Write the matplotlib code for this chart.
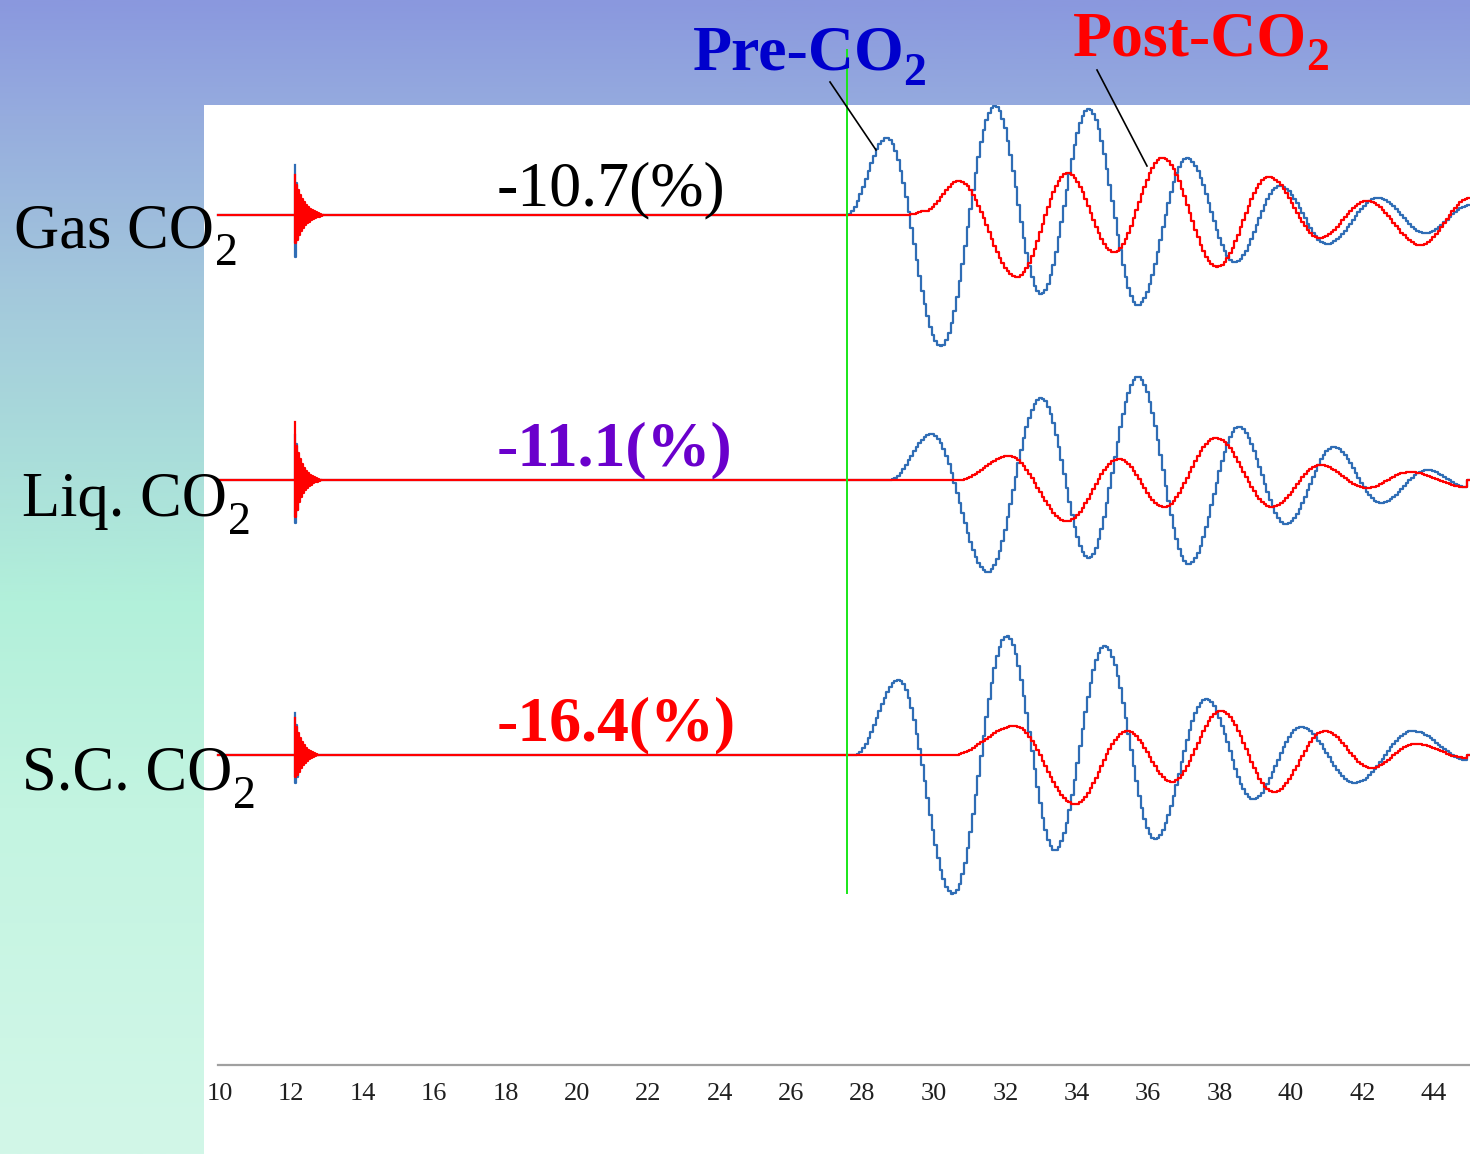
import numpy as np
import matplotlib
matplotlib.use("Agg")
import matplotlib.pyplot as plt
from matplotlib.lines import Line2D
from matplotlib.patches import Rectangle

plt.rcParams["font.family"] = ["Liberation Serif", "DejaVu Serif"]

# ---------------------------------------------------------------- data
# time axis (ms)
tick_values = list(range(10, 46, 2))
tick_labels = [str(v) for v in tick_values]

trace_start = 9.95
trace_end = 45.01
source_time = 12.10          # shot instant
trigger_time = 27.55         # picked first arrival

trace_names = ["Gas CO", "Liq. CO", "S.C. CO"]
change_labels = ["-10.7(%)", "-11.1(%)", "-16.4(%)"]

# extrema of each waveform: times (ms) and amplitudes (arb. units)
gas_pre_t = [27.56, 28.68, 30.20, 31.71, 33.00, 34.34, 35.71, 37.09, 38.43, 39.69, 41.01, 42.44, 43.78, 45.01]
gas_pre_a = [0, 77, -131, 109, -79, 106, -90, 57, -47, 29, -29, 17, -18, 10]
gas_post_t = [29.25, 29.75, 30.70, 32.33, 33.75, 35.04, 36.41, 37.93, 39.38, 40.81, 42.13, 43.64, 45.01]
gas_post_a = [0, 4, 34, -62, 42, -37, 57, -52, 38, -23, 14, -30, 17]

liq_pre_t = [28.77, 29.94, 31.51, 33.00, 34.34, 35.71, 37.14, 38.54, 39.86, 41.20, 42.52, 43.81, 44.93]
liq_pre_a = [0, 46, -92, 82, -78, 103, -84, 53, -44, 33, -23, 10, -7]
liq_post_t = [30.70, 32.10, 33.73, 35.18, 36.44, 37.90, 39.47, 40.81, 42.13, 43.31, 44.93]
liq_post_a = [0, 24, -41, 21, -27, 42, -27, 15, -8, 8, -7]

sc_pre_t = [27.79, 29.02, 30.53, 32.05, 33.39, 34.79, 36.19, 37.62, 38.94, 40.28, 41.79, 43.42, 44.93]
sc_pre_a = [0, 75, -139, 119, -95, 109, -84, 56, -44, 28, -28, 24, -5]
sc_post_t = [30.53, 32.27, 33.95, 35.41, 36.67, 38.04, 39.52, 40.95, 42.24, 43.47, 44.93]
sc_post_a = [0, 29, -49, 24, -27, 44, -37, 24, -13, 11, -3]

# shot burst samples (every 0.028 ms after the source instant)
gas_pre_burst = [50, -42, 32, -24, 18, -14, 11, -9, 7, -5, 4, -3, 2, -1, 0]
gas_post_burst = [40, -28, 30, -25, 25, -20, 20, -16, 16, -13, 13, -10, 10, -8, 8,
                  -7, 6, -5, 5, -4, 4, -3, 3, -2, 2, -2, 1, -1, 0]
liq_pre_burst = [45, -43, 36, -30, 22, -16, 12, -9, 7, -5, 4, -3, 2, -1, 0]
liq_post_burst = [58, -37, 34, -30, 27, -22, 21, -17, 16, -13, 12, -10, 9, -8, 7,
                  -6, 5, -5, 4, -3, 3, -2, 2, -2, 1, -1, 0]
sc_pre_burst = [42, -28, 30, -22, 16, -12, 9, -7, 5, -4, 3, -2, 1, 0]
sc_post_burst = [37, -22, 28, -20, 22, -17, 17, -13, 13, -10, 10, -8, 7, -6, 5,
                 -4, 4, -3, 3, -2, 2, -1, 1, 0]

pre_sets = [(gas_pre_t, gas_pre_a, gas_pre_burst),
            (liq_pre_t, liq_pre_a, liq_pre_burst),
            (sc_pre_t, sc_pre_a, sc_pre_burst)]
post_sets = [(gas_post_t, gas_post_a, gas_post_burst),
             (liq_post_t, liq_post_a, liq_post_burst),
             (sc_post_t, sc_post_a, sc_post_burst)]

# ---------------------------------------------------------------- style
W, H = 1470, 1154
DPI = 100
BLUE = "#2f6db5"
RED = "#ff0000"
trace_offsets = [850, 585, 310]
label_colors = ["black", "#6a00cc", "#ff0000"]
label_weights = ["normal", "bold", "bold"]


def fx(px):
    return px / W


def fy(py):
    return 1 - py / H


def waveform(t_ext, a_ext, t):
    """Half-cosine segments joining consecutive extrema."""
    y = np.zeros_like(t)
    for (t0, a0), (t1, a1) in zip(zip(t_ext[:-1], a_ext[:-1]), zip(t_ext[1:], a_ext[1:])):
        m = (t >= t0) & (t <= t1)
        s = (t[m] - t0) / (t1 - t0)
        y[m] = a0 + (a1 - a0) * (1 - np.cos(np.pi * s)) / 2
    return y


fig = plt.figure(figsize=(W / DPI, H / DPI), dpi=DPI)

# slide background gradient
bg = fig.add_axes([0, 0, 1, 1], zorder=-10)
stops = [0.0, 0.1, 0.25, 0.4, 0.52, 0.7, 1.0]
cols = [(138, 152, 222), (150, 172, 222), (163, 200, 220), (170, 222, 218),
        (178, 240, 218), (195, 244, 225), (210, 247, 232)]
yy = np.linspace(0, 1, 400)
grad = np.stack([np.interp(yy, stops, [c[i] for c in cols]) for i in range(3)], axis=-1) / 255
bg.imshow(grad[:, None, :], aspect="auto", extent=[0, 1, 1, 0])
bg.add_patch(Rectangle((fx(204), 0), 1 - fx(204), 1 - 105 / H, facecolor="white",
                       edgecolor="none", transform=bg.transAxes))
bg.set_xlim(0, 1)
bg.set_ylim(1, 0)
bg.set_axis_off()

# plot panel
ax = fig.add_axes([fx(204), fy(1065), fx(1470) - fx(204), fy(105) - fy(1065)])
ax.patch.set_alpha(0)
px_per_ms = 35.7
ax.set_xlim(10 + (204 - 220) / px_per_ms, 10 + (1470 - 220) / px_per_ms)
ax.set_ylim(0, 960)

t = np.arange(trace_start, trace_end, 0.075)
for k in range(3):
    off = trace_offsets[k]
    for (te, ae, burst), color, z in ((pre_sets[k], BLUE, 2), (post_sets[k], RED, 3)):
        y = waveform(te, ae, t)
        ax.plot(t, y + off, color=color, lw=1.6, drawstyle="steps-mid", zorder=z)
        tb = source_time + 0.028 * np.arange(len(burst))
        ax.plot(tb, np.array(burst) + off, color=color, lw=1.6,
                drawstyle="steps-mid", zorder=z)

# first-arrival marker
ax.plot([trigger_time, trigger_time], [1065 - 893, 1065 - 50], color="#19e619",
        lw=1.4, zorder=4, clip_on=False)

for s in ("top", "right", "left"):
    ax.spines[s].set_visible(False)
ax.spines["bottom"].set_color("#a0a0a0")
ax.spines["bottom"].set_linewidth(1.6)
ax.spines["bottom"].set_bounds(9.94, 45.1)
ax.set_yticks([])
ax.set_xticks(tick_values)
ax.set_xticklabels(tick_labels, fontsize=19, color="#202020")
ax.tick_params(axis="x", length=0, pad=13)


def chem_label(x, y, text, size, sub_size, drop, gap, **kw):
    """Draw text followed by a lowered '2' subscript."""
    main = fig.text(fx(x), fy(y), text, fontsize=size, ha="left", va="baseline", **kw)
    fig.canvas.draw()
    bb = main.get_window_extent()
    fig.text((bb.x1 + gap) / W, fy(y + drop), "2", fontsize=sub_size,
             ha="left", va="baseline", **kw)


# trace names
name_pos = [(14, 247), (22, 516), (22, 790)]
for name, (x, y) in zip(trace_names, name_pos):
    chem_label(x, y, name, 45, 33, 18, 1, color="black")

# velocity change labels
change_pos = [(497, 205), (497, 465), (497, 740)]
for lab, (x, y), c, w in zip(change_labels, change_pos, label_colors, label_weights):
    fig.text(fx(x), fy(y), lab, fontsize=46, ha="left", va="baseline", color=c, fontweight=w)

# captions with leader lines
chem_label(693, 70, "Pre-CO", 46, 33, 15, -2, color="#0000cc", fontweight="bold")
chem_label(1073, 55, "Post-CO", 46, 33, 15, -1, color="#ff0000", fontweight="bold")
fig.add_artist(Line2D([fx(830), fx(876)], [fy(82), fy(150)], color="black", lw=1.2))
fig.add_artist(Line2D([fx(1097), fx(1147)], [fy(70), fy(166)], color="black", lw=1.2))

fig.savefig("out.png", dpi=DPI)
